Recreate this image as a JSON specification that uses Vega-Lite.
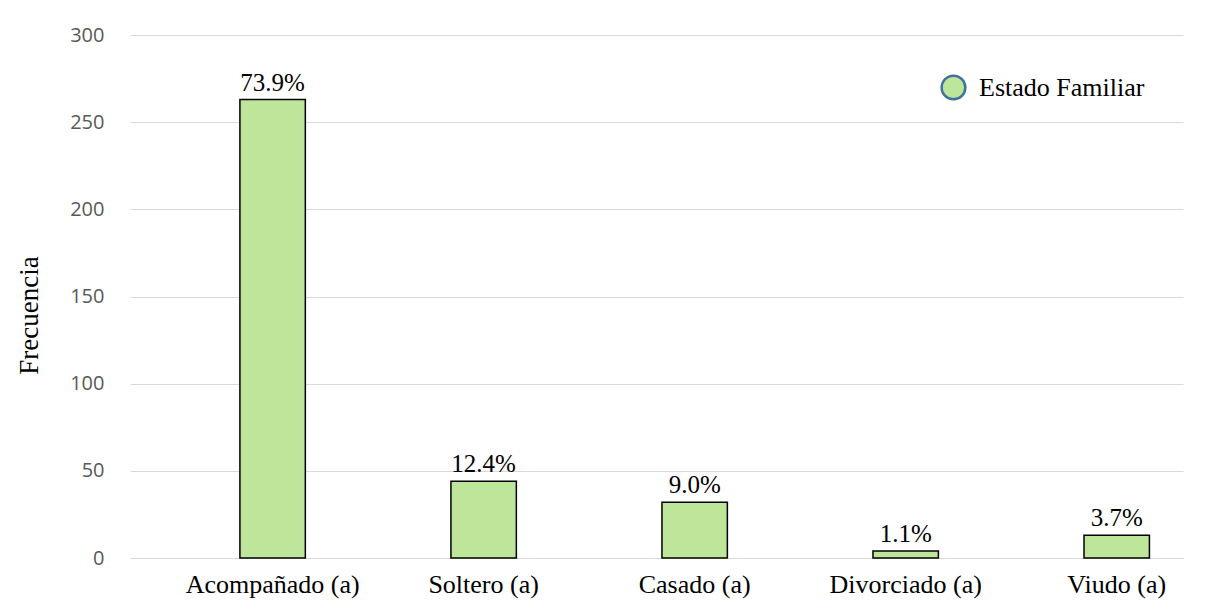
{
  "$schema": "https://vega.github.io/schema/vega-lite/v6.json",
  "autosize": "none",
  "width": 1053,
  "height": 523,
  "padding": {"left": 130, "top": 35, "right": 34, "bottom": 58},
  "background": "white",
  "config": {
    "view": {"stroke": null},
    "axis": {"labelFont": "Liberation Serif", "titleFont": "Liberation Serif"}
  },
  "data": {
    "values": [
      {"estado": "Acompañado (a)", "frecuencia": 263, "pct": "73.9%", "serie": "Estado Familiar"},
      {"estado": "Soltero (a)", "frecuencia": 44, "pct": "12.4%", "serie": "Estado Familiar"},
      {"estado": "Casado (a)", "frecuencia": 32, "pct": "9.0%", "serie": "Estado Familiar"},
      {"estado": "Divorciado (a)", "frecuencia": 4, "pct": "1.1%", "serie": "Estado Familiar"},
      {"estado": "Viudo (a)", "frecuencia": 13, "pct": "3.7%", "serie": "Estado Familiar"}
    ]
  },
  "encoding": {
    "x": {
      "field": "estado",
      "type": "nominal",
      "sort": null,
      "scale": {"paddingInner": 0.69, "paddingOuter": 0.34, "align": 0.766},
      "axis": {
        "title": null,
        "labelAngle": 0,
        "labelFont": "Liberation Serif",
        "labelFontSize": 26,
        "labelColor": "#000000",
        "labelPadding": 13,
        "ticks": false,
        "domain": true,
        "domainColor": "#D9D9D9",
        "grid": false
      }
    },
    "y": {
      "field": "frecuencia",
      "type": "quantitative",
      "scale": {"domain": [0, 300]},
      "axis": {
        "title": "Frecuencia",
        "titleFont": "Liberation Serif",
        "titleFontSize": 27,
        "titleFontWeight": "normal",
        "titleColor": "#000000",
        "titleX": -101,
        "titleY": 280,
        "titleAlign": "center",
        "titleBaseline": "middle",
        "values": [0, 50, 100, 150, 200, 250, 300],
        "labelFont": "Open Sans",
        "labelFontSize": 20,
        "labelColor": "#595959",
        "labelPadding": 26,
        "ticks": false,
        "domain": false,
        "grid": true,
        "gridColor": "#D9D9D9",
        "gridWidth": 1.2
      }
    }
  },
  "layer": [
    {
      "mark": {"type": "bar", "stroke": "#000000", "strokeWidth": 1.5},
      "encoding": {
        "color": {
          "field": "serie",
          "type": "nominal",
          "scale": {"range": ["#BDE69B"]},
          "legend": {
            "title": null,
            "orient": "none",
            "legendX": 810,
            "legendY": 39,
            "padding": 0,
            "symbolType": "circle",
            "symbolSize": 560,
            "symbolFillColor": "#BDE69B",
            "symbolStrokeColor": "#41719C",
            "symbolStrokeWidth": 2.5,
            "symbolOpacity": 1,
            "labelFont": "Liberation Serif",
            "labelFontSize": 26,
            "labelColor": "#000000",
            "labelOffset": 12,
            "labelLimit": 400
          }
        }
      }
    },
    {
      "mark": {"type": "text", "font": "Liberation Serif", "fontSize": 25, "color": "#000000", "baseline": "alphabetic", "dy": -9},
      "encoding": {"text": {"field": "pct"}}
    }
  ]
}
